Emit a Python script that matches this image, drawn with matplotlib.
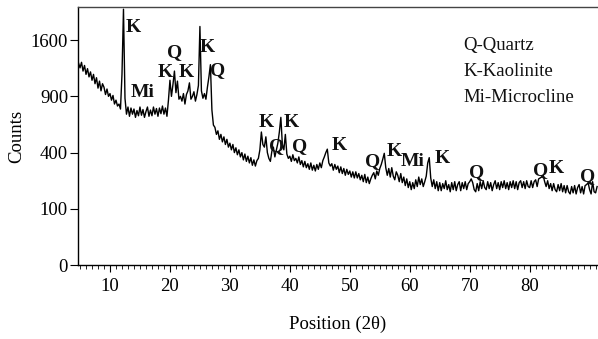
import numpy as np
import matplotlib
matplotlib.use("Agg")
import matplotlib.pyplot as plt
from matplotlib.ticker import MultipleLocator, FixedLocator

plt.rcParams["font.family"] = ["Liberation Serif", "DejaVu Serif"]

# XRD pattern, counts every 0.25 deg starting at 4.75
counts = [
    1290,
    1230, 1300, 1190, 1260,  1150, 1220, 1120, 1180,  1080, 1150, 1040, 1110,
    990, 1070, 960, 1040,    1000, 920, 980, 900,     930, 860, 910, 820,
    860, 800, 820, 770,      1150, 2070, 880, 720,    790, 700, 780, 720,
    770, 690, 755, 705,      790, 710, 765, 690,      745, 790, 700, 760,
    705, 790, 720, 775,      700, 780, 725, 800,      720, 780, 700, 860,
    1080, 900, 1030, 1190,   940, 1070, 870, 900,     850, 930, 820, 920,
    960, 1050, 870, 900,     950, 850, 920, 1020,     1800, 960, 880, 930,
    870, 1000, 1120, 1270,   760, 620, 600, 540,      570, 500, 540, 480,
    520, 460, 500, 440,      470, 420, 460, 400,      435, 385, 420, 370,
    400, 350, 390, 340,      375, 330, 365, 315,      350, 310, 345, 360,
    420, 560, 460, 440,      520, 400, 360, 340,      410, 440, 370, 420,
    470, 560, 690, 460,      420, 540, 390, 360,      375, 340, 385, 345,
    360, 330, 370, 320,      345, 305, 340, 300,      325, 290, 330, 285,
    315, 280, 320, 290,      330, 300, 345, 370,      400, 425, 330, 310,
    325, 285, 320, 290,      310, 270, 305, 265,      295, 255, 290, 260,
    280, 245, 275, 240,      275, 240, 265, 230,      255, 220, 260, 215,
    245, 210, 235, 255,      270, 235, 280, 255,      295, 320, 355, 395,
    300, 255, 295, 245,      300, 250, 230, 275,      255, 220, 265, 215,
    245, 200, 235, 190,      220, 180, 215, 185,      230, 195, 245, 205,
    235, 195, 220, 250,      330, 365, 240, 195,      230, 185, 220, 175,
    215, 175, 210, 185,      225, 180, 205, 170,      215, 180, 220, 175,
    205, 220, 175, 215,      185, 220, 180, 210,      220, 235, 215, 180,
    170, 210, 175, 220,      185, 225, 190, 180,      220, 185, 215, 175,
    205, 225, 185, 215,      180, 220, 190, 225,      185, 215, 180, 220,
    190, 225, 185, 220,      180, 215, 225, 190,      220, 185, 225, 195,
    190, 225, 190, 220,      230, 195, 235, 240,      245, 255, 220, 195,
    225, 185, 210, 175,      210, 180, 170, 205,      175, 210, 170, 200,
    165, 200, 170, 160,      195, 165, 200, 160,      190, 205, 165, 195,
    160, 200, 205, 215,      180, 160, 220, 170,      165, 195,
]
two_theta = 4.75 + 0.25 * np.arange(len(counts))

# phase labels: (text, 2theta, counts)
peak_labels = [
    ("K", 13.8, 1790), ("Mi", 15.5, 946), ("K", 19.3, 1177), ("Q", 20.8, 1434),
    ("K", 22.8, 1177), ("K", 26.3, 1502), ("Q", 28.0, 1202),
    ("K", 36.0, 646), ("Q", 37.8, 448), ("K", 40.3, 646), ("Q", 41.7, 448),
    ("K", 48.3, 455), ("Q", 53.8, 342), ("K", 57.4, 411), ("Mi", 60.4, 342),
    ("K", 65.5, 362), ("Q", 71.2, 273), ("Q", 81.8, 285), ("K", 84.5, 297),
    ("Q", 89.7, 250),
]
legend_lines = ["Q-Quartz", "K-Kaolinite", "Mi-Microcline"]
y_ticks = [0, 100, 400, 900, 1600]
x_ticks = [10, 20, 30, 40, 50, 60, 70, 80]

fig = plt.figure(figsize=(5.98, 3.39), dpi=100)
ax = fig.add_axes([0.130, 0.218, 0.870, 0.761])

ax.plot(two_theta, counts, color="black", lw=1.0)

# counts axis is square-root scaled (0, 100, 400, 900, 1600 equally spaced)
ax.set_yscale("function", functions=(lambda v: np.sqrt(np.clip(v, 0, None)),
                                     lambda v: np.square(v)))
ax.set_ylim(0, 2104)
ax.set_xlim(4.62, 91.4)

ax.yaxis.set_major_locator(FixedLocator(y_ticks))
ax.yaxis.set_minor_locator(FixedLocator([]))
ax.set_yticklabels([str(t) for t in y_ticks])
ax.xaxis.set_major_locator(FixedLocator(x_ticks))
ax.xaxis.set_minor_locator(MultipleLocator(1))

ax.tick_params(axis="both", labelsize=13.5, direction="out", color="black")
ax.tick_params(axis="x", which="major", length=5, width=0.8, pad=4)
ax.tick_params(axis="x", which="minor", length=3, width=0.6)
ax.tick_params(axis="y", which="major", length=6, width=0.8, pad=1)

ax.spines["right"].set_visible(False)
for s in ("left", "bottom", "top"):
    ax.spines[s].set_linewidth(1.0)
ax.spines["top"].set_color("#444444")

ax.set_xlabel("Position (2θ)", fontsize=13.5, labelpad=15)
ax.set_ylabel("Counts", fontsize=13.5, labelpad=4)

for txt, x, y in peak_labels:
    ax.text(x, y, txt, ha="center", va="center", fontsize=14,
            fontweight="bold", color="#111111")

for i, line in enumerate(legend_lines):
    ax.text(0.7405, 0.853 - i * 0.101, line, transform=ax.transAxes,
            ha="left", va="center", fontsize=13.5, color="#111111")

fig.savefig("out.png", dpi=100)
